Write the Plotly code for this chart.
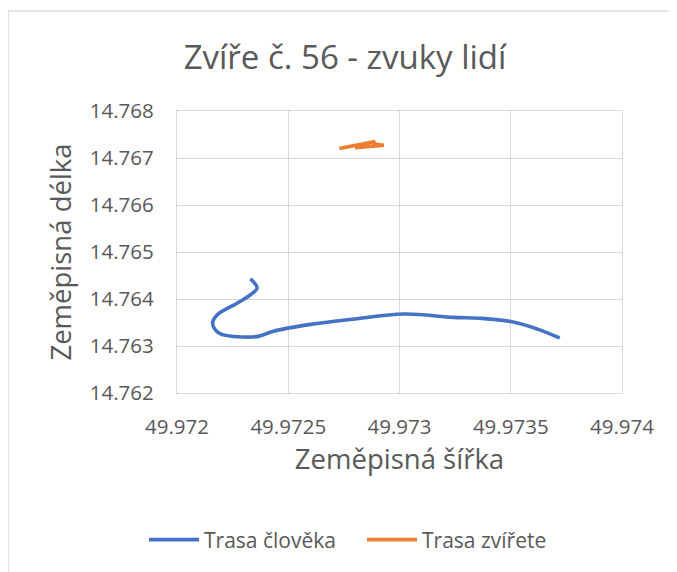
import plotly.graph_objects as go

# Human track (latitude on x, longitude on y)
human_lat = [49.97233, 49.97236, 49.97233, 49.97227, 49.97218, 49.97216, 49.97219,
             49.97230, 49.97237, 49.97243, 49.97260, 49.97279, 49.97302, 49.97324,
             49.97336, 49.97350, 49.97362, 49.97372]
human_lon = [14.76443, 14.76423, 14.76409, 14.76391, 14.76366, 14.76348, 14.76327,
             14.76319, 14.76321, 14.76331, 14.76346, 14.76357, 14.76368, 14.76361,
             14.76359, 14.76352, 14.76336, 14.76317]

# Animal track
animal_lat = [49.97273, 49.97289, 49.97288, 49.97293, 49.97280]
animal_lon = [14.76720, 14.76735, 14.76730, 14.76727, 14.76722]

x_ticks = [49.972, 49.9725, 49.973, 49.9735, 49.974]
x_tick_labels = ["49.972", "49.9725", "49.973", "49.9735", "49.974"]
y_ticks = [14.762, 14.763, 14.764, 14.765, 14.766, 14.767, 14.768]
y_tick_labels = ["14.762", "14.763", "14.764", "14.765", "14.766", "14.767", "14.768"]

FONT = "Open Sans"
TXT = "#595959"
GRID = "#d9d9d9"

fig = go.Figure()
fig.add_trace(go.Scatter(x=human_lat, y=human_lon, mode="lines", name="Trasa člověka",
                         line=dict(color="#4472C4", width=3.6, shape="spline", smoothing=1.0)))
fig.add_trace(go.Scatter(x=animal_lat, y=animal_lon, mode="lines", name="Trasa zvířete",
                         line=dict(color="#ED7D31", width=3.6)))

W, H = 677, 572
OFF = 8  # page body margin offset
L, T = 177 - OFF, 111 - OFF
pw, ph = 445, 282
R, B = W - L - pw, H - T - ph

fig.update_layout(
    width=W, height=H,
    margin=dict(l=L, r=R, t=T, b=B, autoexpand=False),
    paper_bgcolor="white", plot_bgcolor="white",
    font=dict(family=FONT, color=TXT),
    title=dict(text="Zvíře č. 56 - zvuky lidí", x=(345 - OFF) / W, xref="container", xanchor="center",
               y=1 - (57 - OFF) / H, yref="container", yanchor="middle",
               font=dict(size=33, color=TXT, family=FONT)),
    xaxis=dict(range=[49.972, 49.974], tickvals=x_ticks, ticktext=x_tick_labels,
               showgrid=True, gridcolor=GRID, gridwidth=1.3, zeroline=False,
               showline=True, linecolor=GRID, linewidth=1.3, mirror=True,
               ticks="", ticklabelstandoff=15, tickfont=dict(size=20.5, color=TXT),
               title=dict(text="Zeměpisná šířka", font=dict(size=27.5, color=TXT), standoff=8)),
    yaxis=dict(range=[14.762, 14.768], tickvals=y_ticks, ticktext=y_tick_labels,
               showgrid=True, gridcolor=GRID, gridwidth=1.3, zeroline=False,
               showline=True, linecolor=GRID, linewidth=1.3, mirror=True,
               ticks="", ticklabelstandoff=18, tickfont=dict(size=20.5, color=TXT),
               title=dict(text="Zeměpisná délka", font=dict(size=27.5, color=TXT), standoff=10)),
    legend=dict(orientation="h", x=(154 - OFF - 10 - L) / pw, xanchor="left",
                y=(T + ph - (540 - OFF)) / ph, yanchor="middle",
                font=dict(size=21, color=TXT), itemwidth=50,
                entrywidth=153, entrywidthmode="pixels"),
    showlegend=True,
)

# chart-area border (only top and left visible, as in the cropped original)
fig.add_shape(type="rect", xref="paper", yref="paper",
              x0=(8 - OFF - L) / pw, x1=(W + 20 - L) / pw,
              y0=(T + ph - (H + 20)) / ph, y1=(T + ph - (11 - OFF)) / ph,
              line=dict(color=GRID, width=1.5), fillcolor="rgba(0,0,0,0)", layer="below")

fig.write_html("out.html")
